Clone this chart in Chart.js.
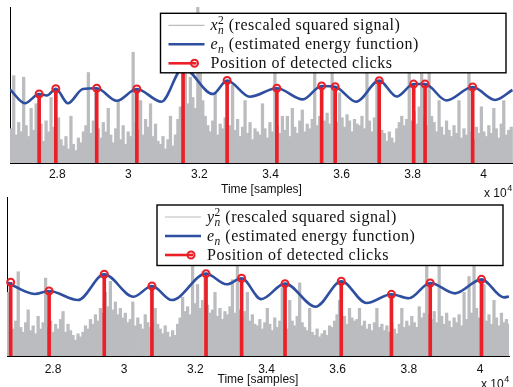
<!DOCTYPE html>
<html>
<head>
<meta charset="utf-8">
<script src="https://cdn.jsdelivr.net/npm/chart.js@4.4.0/dist/chart.umd.min.js"></script>
<style>
  body { margin: 0; background: #fff; }
  #haut { position: absolute; left: 0; top: 0; }
  #bas { position: absolute; left: 0; top: 195px; }
</style>
</head>
<body>
<canvas id="haut" width="513" height="200"></canvas>
<canvas id="bas" width="513" height="192"></canvas>
<script>
//////////////////////
// DONNÉES DU TRACÉ //
//////////////////////
var ticksTemps = [28000, 30000, 32000, 34000, 36000, 38000, 40000];
var pasSignal = 70; // un bâton gris tous les 70 échantillons

// --- signal x (graphique du haut) ---
var debutHaut = 26670, finHaut = 40825;
var signalHaut = [
    0.22, 0.56, 0.18, 0.26, 0.2, 0.55, 0.24, 0.17, 0.35, 0.21,
    0.38, 0.19, 0.25, 0.14, 0.27, 0.2, 0.42, 0.23, 0.16, 0.29,
    0.15, 0.11, 0.17, 0.09, 0.3, 0.12, 0.08, 0.16, 0.13, 0.2,
    0.24, 0.58, 0.19, 0.27, 0.45, 0.22, 0.16, 0.26, 0.2, 0.35,
    0.18, 0.13, 0.22, 0.4, 0.15, 0.24, 0.12, 0.2, 0.17, 0.71,
    0.26, 0.21, 0.4, 0.18, 0.28, 0.23, 0.38, 0.17, 0.25, 0.14,
    0.12, 0.17, 0.09, 0.15, 0.3, 0.11, 0.18, 0.28, 0.36, 0.32,
    0.65, 0.38, 0.55, 0.42, 0.35, 1.0, 0.6, 0.4, 0.3, 0.24,
    0.2, 0.27, 0.45, 0.18, 0.25, 0.22, 0.29, 0.16, 0.24, 0.5,
    0.21, 0.28, 0.17, 0.23, 0.4, 0.19, 0.26, 0.15, 0.22, 0.2,
    0.18, 0.38, 0.22, 0.16, 0.26, 0.2, 0.95, 0.24, 0.19, 0.3,
    0.21, 0.3, 0.17, 0.35, 0.23, 0.19, 0.27, 0.34, 0.2, 0.25,
    0.22, 0.28, 0.8, 0.24, 0.3, 0.21, 0.27, 0.32, 0.25, 0.8,
    0.42, 0.26, 0.45, 0.29, 0.23, 0.31, 0.27, 0.2, 0.28, 0.25,
    0.24, 0.3, 0.22, 0.85, 0.27, 0.2, 0.29, 0.5, 0.25, 0.21,
    0.19, 0.14, 0.2, 0.16, 0.13, 0.22, 0.26, 0.3, 0.24, 0.28,
    0.9, 0.27, 0.33, 0.25, 0.36, 0.7, 0.29, 0.24, 0.85, 0.3,
    0.26, 0.2, 0.4, 0.23, 0.18, 0.27, 0.21, 0.17, 0.24, 0.19,
    0.4, 0.16, 0.22, 0.18, 0.85, 0.2, 0.15, 0.23, 0.19, 0.36,
    0.2, 0.17, 0.24, 0.19, 0.35, 0.22, 0.16, 0.25, 0.4, 0.18,
    0.21, 0.23
];
var energieHautX = [26670, 27090, 27490, 27710, 27960, 28300, 28720, 29110, 29670, 30240,
    30930, 31540, 32380, 32780, 33420, 34180, 34910, 35440, 35820, 36410,
    37060, 37550, 38030, 38350, 38950, 39690, 40320, 40810];
var energieHautY = [0.472, 0.383, 0.442, 0.433, 0.476, 0.383, 0.474, 0.479, 0.399, 0.474,
    0.393, 0.61, 0.442, 0.529, 0.425, 0.479, 0.408, 0.494, 0.489, 0.393,
    0.528, 0.426, 0.506, 0.506, 0.401, 0.487, 0.404, 0.468];
var clicsHautX = [27490, 27960, 29110, 30240, 31540, 32780, 34180, 35440, 35820, 37060, 38030, 38350, 39690];
var clicsHautY = [0.442, 0.476, 0.479, 0.474, 0.61, 0.529, 0.479, 0.494, 0.489, 0.528, 0.506, 0.506, 0.487];

// --- signal y (graphique du bas) ---
var debutBas = 26707, finBas = 40814;
var signalBas = [
    0.4, 0.2, 0.17, 0.22, 0.53, 0.18, 0.15, 0.21, 0.29, 0.16,
    0.19, 0.14, 0.25, 0.17, 0.21, 0.49, 0.18, 0.22, 0.15, 0.2,
    0.17, 0.23, 0.28, 0.15, 0.2, 0.16, 0.13, 0.1, 0.14, 0.12,
    0.15, 0.19, 0.17, 0.23, 0.2, 0.26, 0.22, 0.3, 0.27, 0.4,
    0.31, 0.47, 0.29, 0.34, 0.26, 0.3, 0.24, 0.27, 0.21, 0.23,
    0.34, 0.19, 0.24, 0.2, 0.17, 0.26, 0.21, 0.18, 0.22, 0.3,
    0.2, 0.17, 0.14, 0.19, 0.15, 0.12, 0.16, 0.13, 0.2, 0.24,
    0.37, 0.28, 0.31, 0.26, 0.65, 0.33, 0.45, 0.3, 0.35, 0.5,
    0.32, 0.27, 0.29, 0.4, 0.25, 0.3, 0.23, 0.28, 0.26, 0.31,
    0.48, 0.27, 0.65, 0.29, 0.24, 0.28, 0.4, 0.22, 0.26, 0.2,
    0.19, 0.23, 0.17, 0.21, 0.3, 0.2, 0.16, 0.24, 0.18, 0.22,
    0.43, 0.2, 0.17, 0.35, 0.22, 0.19, 0.25, 0.46, 0.21, 0.18,
    0.16, 0.3, 0.15, 0.13, 0.17, 0.12, 0.14, 0.16, 0.13, 0.19,
    0.18, 0.22, 0.26, 0.35, 0.21, 0.25, 0.2, 0.3, 0.24, 0.22,
    0.23, 0.3, 0.19, 0.22, 0.17, 0.2, 0.16, 0.21, 0.3, 0.18,
    0.2, 0.16, 0.19, 0.15, 0.21, 0.17, 0.14, 0.2, 0.3, 0.18,
    0.22, 0.19, 0.25, 0.21, 0.18, 0.31, 0.24, 0.27, 0.8, 0.26,
    0.23, 0.28, 0.21, 0.75, 0.25, 0.2, 0.27, 0.22, 0.18, 0.24,
    0.21, 0.26, 0.19, 0.4, 0.23, 0.5, 0.27, 0.7, 0.3, 0.24,
    0.28, 0.45, 0.22, 0.26, 0.2, 0.35, 0.24, 0.19, 0.27, 0.21,
    0.23, 0.2
];
var energieBasX = [26707, 27490, 27890, 28700, 29440, 30260, 30780, 31340, 32300, 32880,
    33300, 33850, 34520, 35380, 36100, 36810, 37510, 38000, 38600, 39300,
    40040, 40670, 40814];
var energieBasY = [0.462, 0.39, 0.409, 0.352, 0.514, 0.373, 0.44, 0.352, 0.518, 0.451,
    0.489, 0.358, 0.455, 0.31, 0.47, 0.333, 0.388, 0.363, 0.459, 0.394,
    0.482, 0.369, 0.374];
var clicsBasX = [26810, 27890, 29440, 30780, 32300, 33300, 34520, 36100, 37510, 38600, 40040];
var clicsBasY = [0.464, 0.409, 0.514, 0.44, 0.518, 0.489, 0.455, 0.47, 0.388, 0.459, 0.482];

var GRIS = 'rgb(187, 188, 191)';
var BLEU = 'rgb(46, 78, 160)';
var ROUGE = 'rgb(236, 30, 38)';


///////////////////////////////////////////////
// LÉGENDE ENCADRÉE (avec indices/exposants) //
///////////////////////////////////////////////
function ecrireLigne(ctx, x, y, morceaux) {
    morceaux.forEach(function(m) {
        if (m.indice) {
            ctx.font = 'italic 11.5px "Liberation Serif"';
            ctx.letterSpacing = '0px';
            var w = ctx.measureText(m.indice).width;
            ctx.fillText(m.indice, x + 0.5, y + 3.5);
            if (m.exposant) {
                ctx.font = '11.5px "Liberation Serif"';
                ctx.fillText(m.exposant, x + 0.5, y - 6.5);
                w = Math.max(w, ctx.measureText(m.exposant).width);
            }
            x += w + 1;
        } else {
            ctx.font = (m.italique ? 'italic ' : '') + '16px "Liberation Serif"';
            ctx.letterSpacing = m.italique ? '0px' : '0.5px';
            ctx.fillText(m.t, x, y);
            x += ctx.measureText(m.t).width;
        }
    });
    ctx.letterSpacing = '0px';
}

function pluginLegende(boite, nomSignal) {
    return {
        id: 'legendeMath',
        afterDraw: function(chart) {
            var ctx = chart.ctx;
            ctx.save();
            ctx.fillStyle = '#fff';
            ctx.fillRect(boite.x, boite.y, boite.w, boite.h);
            ctx.strokeStyle = '#000';
            ctx.lineWidth = 1.4;
            ctx.strokeRect(boite.x, boite.y, boite.w, boite.h);

            var x0 = boite.x + 8, x1 = boite.x + 44, xt = boite.x + 50;
            var rangs = [boite.y + 12, boite.y + 31, boite.y + 50];

            // échantillons de trait
            ctx.lineCap = 'butt';
            ctx.strokeStyle = GRIS; ctx.lineWidth = 1.2;
            ctx.beginPath(); ctx.moveTo(x0, rangs[0]); ctx.lineTo(x1, rangs[0]); ctx.stroke();
            ctx.strokeStyle = BLEU; ctx.lineWidth = 2.6;
            ctx.beginPath(); ctx.moveTo(x0, rangs[1]); ctx.lineTo(x1, rangs[1]); ctx.stroke();
            ctx.strokeStyle = ROUGE; ctx.lineWidth = 2.6;
            ctx.beginPath(); ctx.moveTo(x0, rangs[2]); ctx.lineTo(x1 - 8, rangs[2]); ctx.stroke();
            ctx.lineWidth = 2;
            ctx.beginPath(); ctx.arc(x1 - 10, rangs[2], 3.5, 0, 2 * Math.PI); ctx.stroke();

            // textes
            ctx.fillStyle = '#111';
            ctx.textBaseline = 'alphabetic';
            ctx.textAlign = 'left';
            ecrireLigne(ctx, xt, rangs[0] + 5, [
                {t: nomSignal, italique: true},
                {indice: 'n', exposant: '2'},
                {t: ' (rescaled squared signal)'}
            ]);
            ecrireLigne(ctx, xt, rangs[1] + 5, [
                {t: 'e', italique: true},
                {indice: 'n'},
                {t: ' (estimated energy function)'}
            ]);
            ecrireLigne(ctx, xt, rangs[2] + 5, [
                {t: 'Position of detected clicks'}
            ]);
            ctx.restore();
        }
    };
}

// facteur d'échelle "x 10^4" sous l'axe des temps
function pluginEchelle(x, y) {
    return {
        id: 'facteurEchelle',
        afterDraw: function(chart) {
            var ctx = chart.ctx;
            ctx.save();
            ctx.fillStyle = '#111';
            ctx.textBaseline = 'middle';
            ctx.font = '12px "Liberation Sans"';
            ctx.fillText('x 10', x, y);
            var w = ctx.measureText('x 10').width;
            ctx.font = '9px "Liberation Sans"';
            ctx.fillText('4', x + w + 0.5, y - 5);
            ctx.restore();
        }
    };
}


////////////////////////////////////
// DESSINER UN DES DEUX GRAPHIQUES //
////////////////////////////////////
function dessinerGraphique(idCanvas, opts) {
    var ctx = document.getElementById(idCanvas).getContext('2d');

    var pointsSignal = opts.signal.map(function(v, i) {
        return {x: opts.debut + pasSignal * (i + 0.5), y: v};
    });
    var pointsEnergie = opts.energieX.map(function(x, i) {
        return {x: x, y: opts.energieY[i]};
    });
    var pointsClics = opts.clicsX.map(function(x, i) {
        return {x: x, y: opts.clicsY[i]};
    });

    return new Chart(ctx, {
        type: 'bar',
        data: {
            datasets: [{
                // signal au carré (bâtons gris)
                type: 'bar',
                data: pointsSignal,
                backgroundColor: GRIS,
                borderWidth: 0,
                barThickness: 2.6,
                grouped: false,
                order: 4
            }, {
                // tiges des clics
                type: 'bar',
                data: pointsClics,
                backgroundColor: ROUGE,
                borderWidth: 0,
                barThickness: 3,
                grouped: false,
                order: 3
            }, {
                // fonction d'énergie
                type: 'line',
                data: pointsEnergie,
                borderColor: BLEU,
                borderWidth: 2.6,
                pointRadius: 0,
                fill: false,
                cubicInterpolationMode: 'monotone',
                order: 2
            }, {
                // cercles en haut des tiges
                type: 'line',
                data: pointsClics,
                showLine: false,
                pointRadius: 3.5,
                pointBorderWidth: 2,
                pointBorderColor: ROUGE,
                pointBackgroundColor: 'rgba(0,0,0,0)',
                clip: false,
                order: 1
            }]
        },
        options: {
            responsive: false,
            animation: false,
            devicePixelRatio: 1,
            layout: { padding: opts.padding, autoPadding: false },
            plugins: {
                legend: { display: false },
                tooltip: { enabled: false }
            },
            scales: {
                x: {
                    type: 'linear',
                    min: opts.debut,
                    max: opts.fin,
                    offset: false,
                    grid: { display: false, offset: false, drawTicks: false },
                    border: { display: true, color: '#000', width: 1 },
                    afterBuildTicks: function(axe) {
                        axe.ticks = ticksTemps.map(function(v) { return {value: v}; });
                    },
                    afterFit: function(axe) { axe.height = opts.hauteurAxe; },
                    ticks: {
                        padding: opts.ecartTicks,
                        color: '#111',
                        font: { family: '"Liberation Sans", Arial, sans-serif', size: 12 },
                        maxRotation: 0,
                        callback: function(v) { return String(v / 10000); }
                    },
                    title: {
                        display: true,
                        text: 'Time [samples]',
                        color: '#111',
                        font: { family: '"Liberation Sans", Arial, sans-serif', size: 12 },
                        padding: { top: 0, bottom: opts.ecartTitre }
                    }
                },
                y: {
                    min: 0,
                    max: 1,
                    grid: { display: false, drawTicks: false },
                    border: { display: true, color: '#000', width: 1 },
                    ticks: { display: false },
                    afterFit: function(axe) { axe.width = 0; }
                }
            }
        },
        plugins: [pluginLegende(opts.legende, opts.nom), pluginEchelle(opts.echelleX, opts.echelleY)]
    });
}

dessinerGraphique('haut', {
    nom: 'x',
    debut: debutHaut, fin: finHaut,
    signal: signalHaut,
    energieX: energieHautX, energieY: energieHautY,
    clicsX: clicsHautX, clicsY: clicsHautY,
    padding: { left: 10, right: 0, top: 7, bottom: 0 },
    hauteurAxe: 37, ecartTicks: 4, ecartTitre: 3,
    legende: { x: 160.5, y: 13.3, w: 345.5, h: 59.5 },
    echelleX: 484, echelleY: 194
});

dessinerGraphique('bas', {
    nom: 'y',
    debut: debutBas, fin: finBas,
    signal: signalBas,
    energieX: energieBasX, energieY: energieBasY,
    clicsX: clicsBasX, clicsY: clicsBasY,
    padding: { left: 7, right: 4, top: 2, bottom: 0 },
    hauteurAxe: 31, ecartTicks: 6, ecartTitre: 0,
    legende: { x: 157, y: 10, w: 346, h: 60.5 },
    echelleX: 481, echelleY: 190
});
</script>
</body>
</html>
